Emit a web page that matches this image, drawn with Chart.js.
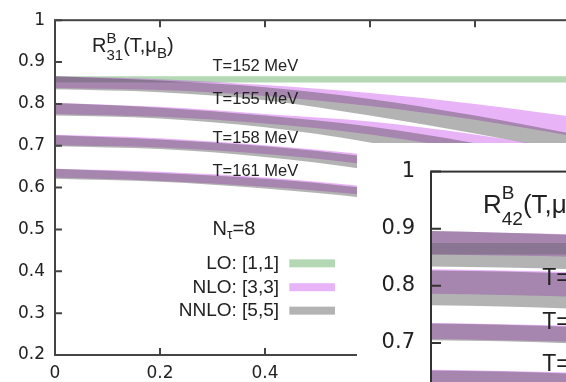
<!DOCTYPE html>
<html><head><meta charset="utf-8">
<script src="https://cdn.jsdelivr.net/npm/chart.js@4.4.1/dist/chart.umd.min.js"></script>
<style>
html,body{margin:0;padding:0;background:#fff;}
#wrap{position:relative;width:566px;height:382px;overflow:hidden;background:#fff;}
#main{position:absolute;left:0;top:0;}
#inset{position:absolute;left:357px;top:143px;background:#fff;}
</style></head><body>
<div id="wrap"><canvas id="main" width="600" height="382"></canvas><canvas id="inset" width="816" height="400"></canvas></div>
<script>
// ---------- data: main panel R31 ----------
const mu31 = [0, 0.2, 0.4, 0.6, 0.8, 1.0];
const r31_LO_152_up   = [0.866, 0.866, 0.866, 0.866, 0.866, 0.866];
const r31_LO_152_lo   = [0.851, 0.851, 0.851, 0.851, 0.851, 0.851];
const r31_NLO_152_up  = [0.866, 0.859, 0.845, 0.826, 0.800, 0.767];
const r31_NLO_152_lo  = [0.838, 0.833, 0.819, 0.795, 0.762, 0.720];
const r31_NNLO_152_up = [0.866, 0.856, 0.840, 0.812, 0.772, 0.725];
const r31_NNLO_152_lo = [0.835, 0.828, 0.809, 0.772, 0.729, 0.682];
const r31_NLO_155_up  = [0.803, 0.793, 0.776, 0.758, 0.727, 0.687];
const r31_NLO_155_lo  = [0.776, 0.769, 0.753, 0.727, 0.687, 0.635];
const r31_NNLO_155_up = [0.802, 0.791, 0.772, 0.746, 0.706, 0.654];
const r31_NNLO_155_lo = [0.772, 0.765, 0.744, 0.708, 0.659, 0.600];
const r31_NLO_158_up  = [0.726, 0.718, 0.701, 0.678, 0.647, 0.607];
const r31_NLO_158_lo  = [0.701, 0.696, 0.680, 0.654, 0.616, 0.569];
const r31_NNLO_158_up = [0.725, 0.715, 0.699, 0.673, 0.635, 0.588];
const r31_NNLO_158_lo = [0.699, 0.692, 0.673, 0.642, 0.598, 0.541];
const r31_NLO_161_up  = [0.645, 0.638, 0.624, 0.602, 0.574, 0.536];
const r31_NLO_161_lo  = [0.624, 0.616, 0.602, 0.581, 0.548, 0.506];
const r31_NNLO_161_up = [0.645, 0.635, 0.621, 0.598, 0.567, 0.527];
const r31_NNLO_161_lo = [0.621, 0.614, 0.598, 0.574, 0.536, 0.489];

// ---------- data: inset R42 ----------
const mu42 = [0, 0.1, 0.2, 0.3, 0.4];
const r42_LO_152_up   = [0.875, 0.875, 0.875, 0.875, 0.875];
const r42_LO_152_lo   = [0.855, 0.855, 0.855, 0.855, 0.855];
const r42_NLO_152_up  = [0.896, 0.893, 0.890, 0.885, 0.878];
const r42_NLO_152_lo  = [0.855, 0.853, 0.851, 0.846, 0.838];
const r42_NNLO_152_up = [0.896, 0.893, 0.889, 0.883, 0.875];
const r42_NNLO_152_lo = [0.834, 0.832, 0.829, 0.823, 0.814];
const r42_NLO_155_up  = [0.829, 0.827, 0.824, 0.819, 0.812];
const r42_NLO_155_lo  = [0.786, 0.784, 0.781, 0.776, 0.768];
const r42_NNLO_155_up = [0.827, 0.825, 0.821, 0.815, 0.807];
const r42_NNLO_155_lo = [0.766, 0.764, 0.760, 0.753, 0.743];
const r42_NLO_158_up  = [0.735, 0.733, 0.730, 0.725, 0.718];
const r42_NLO_158_lo  = [0.707, 0.705, 0.702, 0.697, 0.690];
const r42_NNLO_158_up = [0.734, 0.732, 0.728, 0.723, 0.715];
const r42_NNLO_158_lo = [0.705, 0.703, 0.699, 0.693, 0.685];
const r42_NLO_161_up  = [0.653, 0.651, 0.648, 0.643, 0.636];
const r42_NLO_161_lo  = [0.624, 0.622, 0.619, 0.614, 0.607];
const r42_NNLO_161_up = [0.652, 0.650, 0.646, 0.641, 0.633];
const r42_NNLO_161_lo = [0.622, 0.620, 0.616, 0.610, 0.601];

// ---------- labels / ticks ----------
const tempLabels = ['T=152 MeV', 'T=155 MeV', 'T=158 MeV', 'T=161 MeV'];
const legendLabels = ['LO: [1,1]', 'NLO: [3,3]', 'NNLO: [5,5]'];
const xTickValues = [0, 0.2, 0.4, 0.6, 0.8, 1.0];
const xTickLabels = ['0', '0.2', '0.4', '0.6', '0.8', '1'];
const yTickValues = [0.2, 0.3, 0.4, 0.5, 0.6, 0.7, 0.8, 0.9, 1.0];
const yTickLabels = ['0.2', '0.3', '0.4', '0.5', '0.6', '0.7', '0.8', '0.9', '1'];
const yTickValuesInset = [0.4, 0.5, 0.6, 0.7, 0.8, 0.9, 1.0];
const yTickLabelsInset = ['0.4', '0.5', '0.6', '0.7', '0.8', '0.9', '1'];

const COL = {LO: 'rgba(65,157,65,0.4)', NLO: 'rgba(200,65,237,0.4)', NNLO: 'rgba(65,65,65,0.4)'};
const ORD = {LO: 3, NLO: 2, NNLO: 1};
const SANS = '"Liberation Sans", Arial, sans-serif';
const TICKF = '"DejaVu Sans", sans-serif';
const TXT = '#222';

function bands(mu, list) {
  const ds = [];
  list.forEach(([kind, up, lo]) => {
    ds.push({data: mu.map((m, i) => ({x: m, y: lo[i]})), fill: false, order: ORD[kind],
      borderWidth: 0, pointRadius: 0, cubicInterpolationMode: 'monotone'});
    ds.push({data: mu.map((m, i) => ({x: m, y: up[i]})), fill: '-1', backgroundColor: COL[kind], order: ORD[kind],
      borderWidth: 0, pointRadius: 0, cubicInterpolationMode: 'monotone'});
  });
  return ds;
}

function rich(ctx, x, y, parts) {
  ctx.fillStyle = TXT; ctx.textAlign = 'left'; ctx.textBaseline = 'alphabetic';
  let cx = x;
  for (const p of parts) {
    ctx.font = p.s + 'px ' + SANS;
    if (p.t) { ctx.fillText(p.t, cx, y); cx += ctx.measureText(p.t).width; }
    else {
      let w = 0;
      if (p.sup) { ctx.fillText(p.sup, cx, y - p.up); w = Math.max(w, ctx.measureText(p.sup).width); }
      if (p.sub) { ctx.fillText(p.sub, cx, y + p.dn); w = Math.max(w, ctx.measureText(p.sub).width); }
      cx += w;
    }
  }
}

function decor(xt, yt, tickLen, lw, color, drawText) {
  return {
    id: 'decor',
    afterDatasetsDraw(chart) {
      const {ctx, chartArea: a, scales: {x, y}} = chart;
      ctx.save();
      ctx.strokeStyle = color; ctx.lineWidth = lw;
      ctx.beginPath();
      xt.forEach(v => { const px = x.getPixelForValue(v);
        ctx.moveTo(px, a.bottom); ctx.lineTo(px, a.bottom - tickLen);
        ctx.moveTo(px, a.top); ctx.lineTo(px, a.top + tickLen); });
      yt.forEach(v => { const py = y.getPixelForValue(v);
        ctx.moveTo(a.left, py); ctx.lineTo(a.left + tickLen, py);
        ctx.moveTo(a.right, py); ctx.lineTo(a.right - tickLen, py); });
      ctx.stroke();
      ctx.strokeRect(a.left, a.top, a.right - a.left, a.bottom - a.top);
      drawText(ctx, x, y);
      ctx.restore();
    }
  };
}

function scales(yMin, yVals, yLabs, yW, xH, fs, yPad, xPad) {
  return {
    x: {type: 'linear', min: 0, max: 1,
      afterBuildTicks: s => { s.ticks = xTickValues.map(v => ({value: v})); },
      afterFit: s => { s.height = xH; },
      grid: {display: false, drawTicks: false}, border: {display: false},
      ticks: {padding: xPad, color: TXT, autoSkip: false, maxRotation: 0, font: {family: TICKF, size: fs},
        callback: (v, i) => xTickLabels[i]}},
    y: {type: 'linear', min: yMin, max: 1,
      afterBuildTicks: s => { s.ticks = yVals.map(v => ({value: v})); },
      afterFit: s => { s.width = yW; },
      grid: {display: false, drawTicks: false}, border: {display: false},
      ticks: {padding: yPad, color: TXT, autoSkip: false, font: {family: TICKF, size: fs},
        callback: (v, i) => yLabs[i]}}
  };
}

// ---------- main chart ----------
new Chart(document.getElementById('main'), {
  type: 'line',
  data: {datasets: bands(mu31, [
    ['LO', r31_LO_152_up, r31_LO_152_lo],
    ['NLO', r31_NLO_152_up, r31_NLO_152_lo],
    ['NNLO', r31_NNLO_152_up, r31_NNLO_152_lo],
    ['NLO', r31_NLO_155_up, r31_NLO_155_lo],
    ['NNLO', r31_NNLO_155_up, r31_NNLO_155_lo],
    ['NLO', r31_NLO_158_up, r31_NLO_158_lo],
    ['NNLO', r31_NNLO_158_up, r31_NNLO_158_lo],
    ['NLO', r31_NLO_161_up, r31_NLO_161_lo],
    ['NNLO', r31_NNLO_161_up, r31_NNLO_161_lo]
  ])},
  options: {
    responsive: false, animation: false, devicePixelRatio: 1,
    layout: {padding: {left: 0, right: 20, top: 15, bottom: 0}},
    plugins: {legend: {display: false}, tooltip: {enabled: false}},
    scales: scales(0.2, yTickValues, yTickLabels, 55, 27, 17, 10, 8)
  },
  plugins: [decor(xTickValues, yTickValues, 7, 2, '#444', (ctx, x, y) => {
    rich(ctx, x.getPixelForValue(0.0705), y.getPixelForValue(0.925), [
      {t: 'R', s: 20}, {sup: 'B', sub: '31', s: 15, up: 9, dn: 8},
      {t: '(T,μ', s: 20}, {sub: 'B', s: 15, dn: 6}, {t: ')', s: 20}]);
    const tb = [0.878, 0.800, 0.706, 0.628];
    ctx.font = '16.5px ' + SANS; ctx.fillStyle = TXT; ctx.textAlign = 'left';
    tempLabels.forEach((t, i) => ctx.fillText(t, x.getPixelForValue(0.30), y.getPixelForValue(tb[i])));
    rich(ctx, x.getPixelForValue(0.30), y.getPixelForValue(0.487), [
      {t: 'N', s: 20}, {sub: 'τ', s: 14, dn: 4}, {t: '=8', s: 20}]);
    const lb = [0.405, 0.348, 0.292], sc = [0.419, 0.362, 0.306], kinds = ['LO', 'NLO', 'NNLO'];
    legendLabels.forEach((t, i) => {
      ctx.font = '19px ' + SANS; ctx.fillStyle = TXT; ctx.textAlign = 'right';
      ctx.fillText(t, x.getPixelForValue(0.4267), y.getPixelForValue(lb[i]));
      const x0 = x.getPixelForValue(0.4463), x1 = x.getPixelForValue(0.5333), yc = y.getPixelForValue(sc[i]);
      ctx.fillStyle = COL[kinds[i]];
      ctx.fillRect(x0, yc - 4, x1 - x0, 8);
    });
  })]
});

// ---------- inset chart ----------
new Chart(document.getElementById('inset'), {
  type: 'line',
  data: {datasets: bands(mu42, [
    ['LO', r42_LO_152_up, r42_LO_152_lo],
    ['NLO', r42_NLO_152_up, r42_NLO_152_lo],
    ['NNLO', r42_NNLO_152_up, r42_NNLO_152_lo],
    ['NLO', r42_NLO_155_up, r42_NLO_155_lo],
    ['NNLO', r42_NNLO_155_up, r42_NNLO_155_lo],
    ['NLO', r42_NLO_158_up, r42_NLO_158_lo],
    ['NNLO', r42_NNLO_158_up, r42_NNLO_158_lo],
    ['NLO', r42_NLO_161_up, r42_NLO_161_lo],
    ['NNLO', r42_NNLO_161_up, r42_NNLO_161_lo]
  ])},
  options: {
    responsive: false, animation: false, devicePixelRatio: 1,
    layout: {padding: {left: 0, right: 20, top: 21, bottom: 0}},
    plugins: {legend: {display: false}, tooltip: {enabled: false}},
    scales: scales(0.4, yTickValuesInset, yTickLabelsInset, 74, 28, 21, 16, 8)
  },
  plugins: [decor(xTickValues, yTickValuesInset, 10, 2, '#333', (ctx, x, y) => {
    rich(ctx, x.getPixelForValue(0.072), y.getPixelForValue(0.928), [
      {t: 'R', s: 26}, {sup: 'B', sub: '42', s: 19, up: 14, dn: 12},
      {t: '(T,μ', s: 26}, {sub: 'B', s: 19, dn: 8}, {t: ')', s: 26}]);
    const tb = [0.802, 0.725, 0.651];
    ctx.font = '23px ' + SANS; ctx.fillStyle = TXT; ctx.textAlign = 'left';
    tempLabels.slice(1).forEach((t, i) => ctx.fillText(t, x.getPixelForValue(0.154), y.getPixelForValue(tb[i])));
  })]
});
</script>
</body></html>
